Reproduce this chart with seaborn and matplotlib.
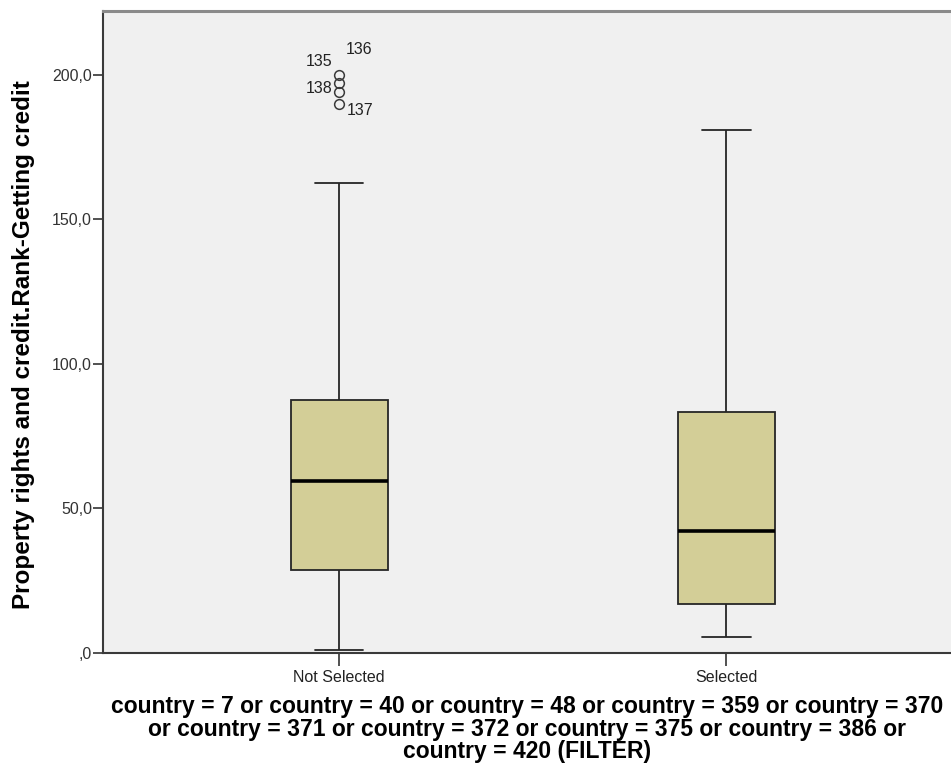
import pandas as pd
import matplotlib.pyplot as plt
import seaborn as sns
from matplotlib.ticker import FuncFormatter

sns.set_theme(style="white")
plt.rcParams["font.family"] = ["Liberation Sans", "DejaVu Sans"]

groups = ["Not Selected", "Selected"]
whisker_low = [1.0, 5.5]
q1 = [28.7, 17.0]
median = [59.5, 42.3]
q3 = [87.5, 83.5]
whisker_high = [162.6, 181.0]
outlier_values = [200.0, 197.0, 194.0, 190.0]
outlier_labels = ["136", "135", "138", "137"]
outlier_group = "Not Selected"

# rebuild a sample per group that reproduces the quartiles / whiskers shown
rows = []
for i, g in enumerate(groups):
    vals = [whisker_low[i]] + [q1[i]] * 10 + [median[i]] * 10 + [q3[i]] * 10 + [whisker_high[i]]
    if g == outlier_group:
        vals += outlier_values
    rows += [(g, v) for v in vals]
df = pd.DataFrame(rows, columns=["group", "value"])

fig = plt.figure(figsize=(9.51, 7.72), dpi=100)
ax = fig.add_axes([0.1083, 0.1541, 0.8917, 0.8317])
ax.set_facecolor("#F0F0F0")

sns.boxplot(
    data=df, x="group", y="value", order=groups, ax=ax,
    width=0.25, color="#D3CE97", saturation=1, whis=1.5,
    linecolor="#262626", linewidth=1.3,
    medianprops=dict(color="black", linewidth=2.6),
    flierprops=dict(marker="o", markerfacecolor="none", markeredgecolor="#3a3a3a",
                    markersize=7, markeredgewidth=1.1),
)

# case labels next to outliers
offsets = [(20, 25), (-20, 22), (-20, 3), (21, -7)]
xpos = groups.index(outlier_group)
for v, lab, off in zip(outlier_values, outlier_labels, offsets):
    ax.annotate(lab, (xpos, v), xytext=off, textcoords="offset pixels",
                ha="center", va="center", fontsize=11.5, color="#222222")

ax.set_xlim(-0.61, 1.58)
ax.set_ylim(0, 222)
ax.set_yticks([0, 50, 100, 150, 200])
ax.yaxis.set_major_formatter(FuncFormatter(
    lambda v, p: f"{v:.1f}".replace(".", ",").lstrip("0") if v == 0 else f"{v:.1f}".replace(".", ",")))

ax.tick_params(axis="y", direction="out", length=7, width=1.2, color="#333333",
               labelsize=11.5, labelcolor="#333333", left=True, pad=1)
ax.tick_params(axis="x", direction="out", length=9, width=1.2, color="#333333",
               labelsize=11.5, labelcolor="#222222", bottom=True, pad=3)

for side in ["left", "bottom"]:
    ax.spines[side].set_color("#3a3a3a")
    ax.spines[side].set_linewidth(1.5)
ax.spines["top"].set_color("#8a8a8a")
ax.spines["top"].set_linewidth(2.2)
ax.spines["right"].set_visible(False)

ax.set_ylabel("Property rights and credit.Rank-Getting credit",
              fontsize=17.5, fontweight="bold", color="black")
ax.yaxis.set_label_coords(-0.080, 0.48)
ax.set_xlabel("country = 7 or country = 40 or country = 48 or country = 359 or country = 370\n"
              "or country = 371 or country = 372 or country = 375 or country = 386 or\n"
              "country = 420 (FILTER)",
              fontsize=16.5, fontweight="bold", color="black", linespacing=0.95)
ax.xaxis.set_label_coords(0.5, -0.066)

plt.savefig("out.png", dpi=100)
